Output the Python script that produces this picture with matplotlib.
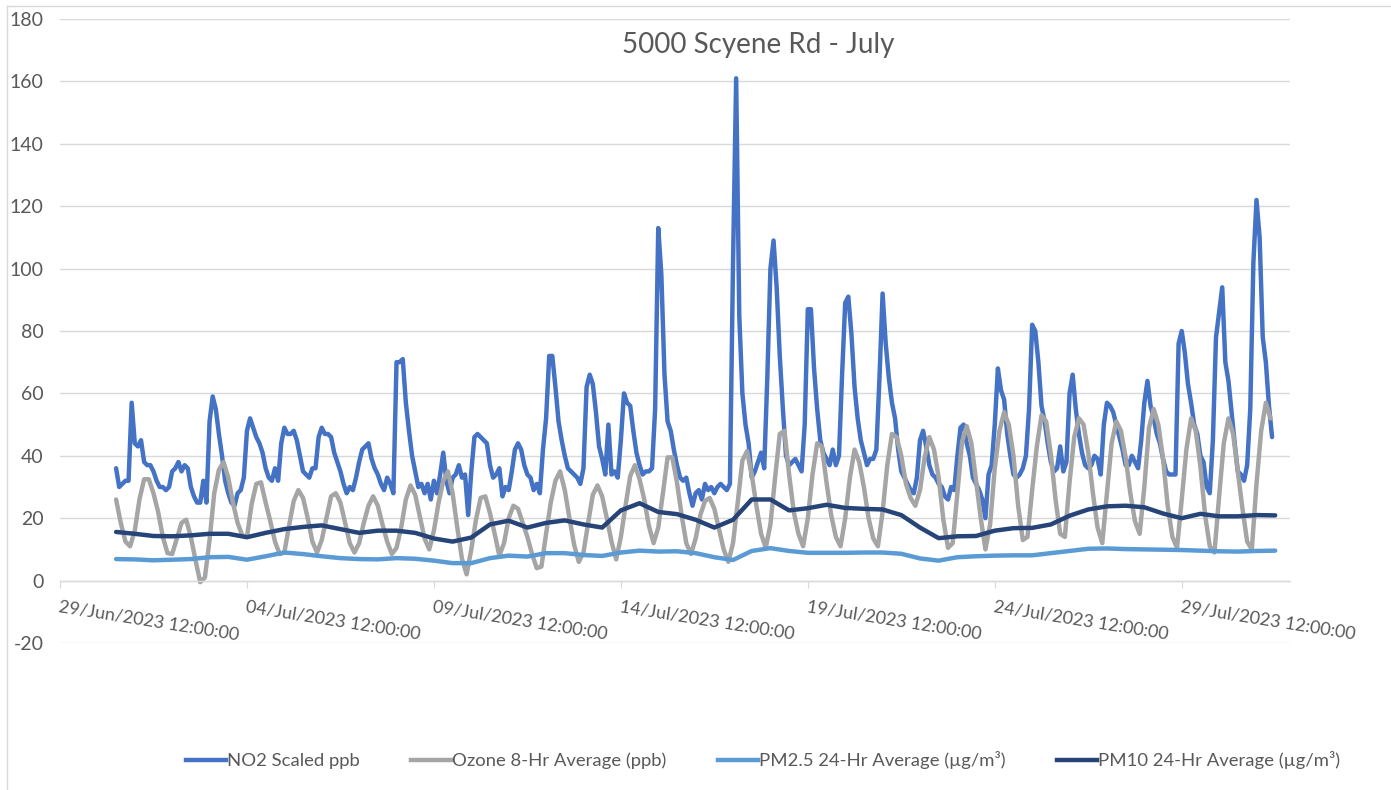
import matplotlib
matplotlib.use("Agg")
import matplotlib.pyplot as plt
from matplotlib.lines import Line2D
import pandas as pd

plt.rcParams["font.family"] = ["Lato", "DejaVu Sans"]
plt.rcParams["axes.unicode_minus"] = False

start = pd.Timestamp("2023-07-01 00:00")

# NO2, one row per day, every 2 hours
no2 = [
    36, 30, 31, 32, 32, 57, 44, 43, 45, 38, 37, 37,
    35, 32, 30, 30, 29, 30, 35, 36, 38, 35, 37, 36,
    30, 27, 25, 25, 32, 25, 51, 59, 55, 47, 40, 32,
    28, 25, 24, 28, 29, 33, 48, 52, 49, 46, 44, 41,
    36, 33, 32, 36, 32, 44, 49, 47, 47, 48, 45, 40,
    35, 34, 33, 36, 36, 46, 49, 47, 47, 46, 41, 38,
    35, 31, 28, 30, 29, 33, 38, 42, 43, 44, 39, 36,
    34, 31, 29, 33, 31, 28, 70, 70, 71, 57, 48, 40,
    35, 30, 31, 28, 31, 26, 32, 28, 34, 41, 32, 28,
    33, 34, 37, 33, 34, 21, 35, 46, 47, 46, 45, 44,
    37, 33, 34, 36, 27, 30, 29, 35, 42, 44, 42, 37,
    34, 33, 29, 31, 28, 42, 52, 72, 72, 62, 51, 45,
    40, 36, 35, 34, 33, 31, 36, 62, 66, 63, 54, 43,
    39, 34, 50, 34, 35, 33, 45, 60, 57, 56, 48, 41,
    37, 34, 35, 35, 36, 55, 113, 98, 66, 51, 48, 42,
    37, 33, 32, 33, 28, 24, 28, 29, 26, 31, 29, 30,
    28, 30, 31, 30, 29, 31, 102, 161, 85, 60, 50, 44,
    33, 35, 38, 41, 36, 65, 100, 109, 94, 72, 55, 40,
    37, 38, 39, 37, 35, 50, 87, 87, 68, 55, 45, 41,
    39, 37, 42, 37, 40, 66, 89, 91, 79, 62, 52, 45,
    41, 37, 39, 39, 42, 65, 92, 76, 65, 57, 52, 42,
    35, 33, 31, 29, 28, 33, 45, 48, 43, 37, 34, 33,
    31, 30, 27, 26, 30, 29, 40, 49, 50, 44, 40, 33,
    31, 29, 26, 20, 34, 37, 50, 68, 61, 58, 47, 40,
    34, 33, 34, 36, 40, 55, 82, 80, 70, 56, 51, 44,
    38, 35, 36, 43, 35, 38, 60, 66, 55, 47, 41, 37,
    36, 37, 40, 39, 34, 50, 57, 56, 54, 50, 46, 42,
    37, 37, 40, 38, 36, 45, 57, 64, 56, 52, 47, 44,
    39, 35, 34, 34, 34, 76, 80, 73, 63, 57, 50, 47,
    40, 38, 30, 28, 45, 78, 86, 94, 70, 64, 54, 44,
    35, 34, 32, 37, 55, 102, 122, 110, 78, 70, 56, 46,
]

# Ozone 8-hr average, one row per day, every 3 hours
ozone = [
    26, 18.5, 12.5, 11, 16, 26, 32.5, 32.5,
    28, 22, 14, 8.8, 8.5, 13.5, 18.5, 19.5,
    14, 6.5, -0.5, 1, 13, 28, 35.5, 38,
    33, 25, 18.5, 14.5, 14, 24.5, 31, 31.5,
    25, 19, 12.5, 8.5, 9, 17.5, 25.5, 29,
    26.5, 20, 12.5, 9, 13, 20, 27, 28,
    25, 18.5, 12, 9, 12, 18.5, 24, 27,
    24, 18, 12.5, 8.5, 10.5, 17, 26, 30.5,
    27.5, 20.5, 13.5, 10, 16, 25, 32, 35,
    28, 17, 7, 2, 10, 19.5, 26.5, 27,
    21.6, 15, 8, 12, 20, 24, 23, 18.5,
    14, 8.5, 4, 4.5, 15, 25, 32, 35,
    29, 20, 11.5, 6, 9, 18.5, 27.5, 30.5,
    27, 20, 12.5, 6.8, 14, 24, 33.5, 37,
    32.5, 26, 17.5, 12, 17, 28, 39.5, 39.5,
    31.5, 21, 12, 8.5, 13.5, 21, 25.5, 26.5,
    23, 16.5, 10, 6, 12, 25, 38.5, 41.5,
    34, 24, 15, 10.5, 18, 33, 47, 48,
    34, 22, 15, 11, 20, 34, 44, 43,
    31.5, 21, 14, 11, 20, 33, 42, 38,
    30, 20, 13.5, 11, 22, 37, 47, 46,
    40, 31, 26.5, 24, 29, 39.5, 46, 42,
    33, 19.5, 10.5, 12, 28, 44.5, 49.5, 44,
    32, 20, 10, 18, 36, 48, 54, 50,
    40, 24, 13, 14, 29, 43, 53, 51,
    40.5, 26, 15, 14, 31.5, 46, 52, 50,
    41, 28, 17, 12, 28, 44, 51, 48,
    39.5, 28, 19, 15, 30, 49, 55, 50,
    39, 24, 14, 10.5, 26, 42, 52, 48,
    36.5, 21, 11, 9, 27, 44, 52, 47,
    35, 23, 12.5, 10, 31, 48, 57, 52,
]

# PM 24-hr averages, every 12 hours
pm25 = [
    6.9, 6.8, 6.5, 6.7, 6.9, 7.5, 7.6, 6.7, 7.8, 9,
    8.5, 7.8, 7.2, 6.9, 6.8, 7.2, 7, 6.4, 5.6, 5.6,
    7.2, 8, 7.7, 8.8, 8.8, 8.2, 7.9, 9, 9.6, 9.3,
    9.4, 8.8, 7.5, 6.6, 9.5, 10.4, 9.5, 8.9, 8.9, 8.9,
    9, 9, 8.6, 7.1, 6.4, 7.5, 7.8, 8, 8.1, 8.1,
    8.8, 9.5, 10.2, 10.3, 10.1, 10, 9.9, 9.8, 9.6, 9.4,
    9.3, 9.5, 9.6,
]
pm10 = [
    15.6, 15, 14.3, 14.2, 14.5, 15, 15, 13.9, 15.3, 16.5,
    17.2, 17.7, 16.5, 15.3, 16, 16, 15.3, 13.5, 12.5, 13.8,
    18, 19.2, 17, 18.5, 19.3, 18, 17, 22.5, 24.8, 22,
    21.3, 19.5, 17, 19.5, 26, 26, 22.5, 23.2, 24.3, 23.3,
    23, 22.8, 21, 17, 13.6, 14.2, 14.3, 16, 16.8, 16.9,
    18, 20.8, 22.8, 23.8, 24, 23.5, 21.5, 20, 21.4, 20.6,
    20.6, 21, 20.9,
]

series = [
    (no2, "2h", "NO2 Scaled ppb", "#4472C4"),
    (ozone, "3h", "Ozone 8-Hr Average (ppb)", "#A5A5A5"),
    (pm25, "12h", "PM2.5 24-Hr Average (µg/m³)", "#5B9BD5"),
    (pm10, "12h", "PM10 24-Hr Average (µg/m³)", "#264478"),
]

W, H = 1391, 790
fig = plt.figure(figsize=(W / 100, H / 100), dpi=100)
ax = fig.add_axes([60 / W, 1 - 643 / H, 1230 / W, 624 / H])

handles = []
for vals, step, label, color in series:
    times = pd.date_range(start, periods=len(vals), freq=step)
    ax.plot(times, vals, color=color, lw=3.2, solid_joinstyle="round",
            solid_capstyle="round")
    handles.append(Line2D([], [], color=color, lw=3.2))

ax.set_ylim(-20, 180)
ax.set_yticks(range(-20, 181, 20))
ax.set_xlim(pd.Timestamp("2023-06-29 12:00"), pd.Timestamp("2023-08-01 09:30"))

ax.grid(axis="y", color="#D9D9D9", lw=1)
ax.set_axisbelow(True)
for side in ["left", "right", "top"]:
    ax.spines[side].set_visible(False)
ax.spines["bottom"].set_position(("data", 0))
ax.spines["bottom"].set_color("#D9D9D9")
ax.spines["bottom"].set_linewidth(1)
ax.tick_params(axis="x", length=5, color="#D9D9D9", labelsize=13,
               labelcolor="#595959", pad=8)
ax.tick_params(axis="y", length=0, labelsize=14, labelcolor="#595959", pad=12)

ticks = pd.date_range("2023-06-29 12:00", periods=7, freq="5D")
ax.set_xticks(ticks)
ax.set_xticklabels([t.strftime("%d/%b/%Y %H:%M:%S") for t in ticks])
for lab in ax.get_xticklabels():
    lab.set_rotation(-9)
    lab.set_rotation_mode("anchor")
    lab.set_horizontalalignment("left")
    lab.set_verticalalignment("top")

fig.text(758 / W, 1 - 45 / H, "5000 Scyene Rd - July", ha="center", va="center",
         fontsize=20, color="#595959")

fig.legend(handles, [s[2] for s in series], loc="center",
           bbox_to_anchor=(763 / W, 1 - 760 / H), ncol=4, frameon=False,
           fontsize=13.3, handlelength=2.2, handletextpad=0.05, columnspacing=2.75,
           labelcolor="#595959")

# outer chart border (left and top edges visible)
fig.add_artist(Line2D([7 / W, 7 / W], [0, 1 - 6 / H], color="#D9D9D9", lw=1))
fig.add_artist(Line2D([7 / W, 1], [1 - 6 / H, 1 - 6 / H], color="#D9D9D9", lw=1))

fig.savefig("out.png", dpi=100)
